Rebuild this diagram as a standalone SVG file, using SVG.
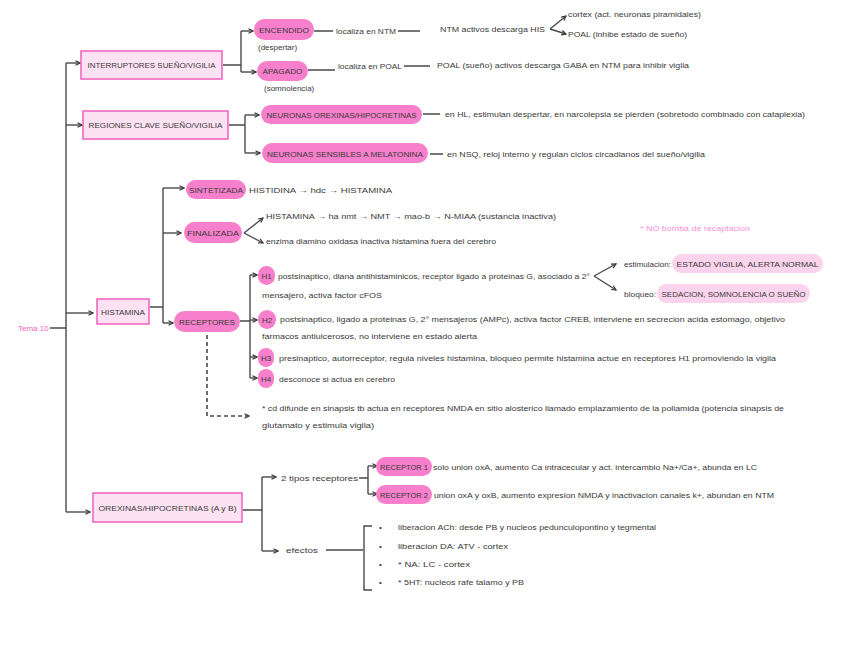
<svg xmlns="http://www.w3.org/2000/svg" width="848" height="656" viewBox="0 0 848 656">
<style>
.t{font-family:"Liberation Sans",Arial,sans-serif;font-size:8px;fill:#3a3a3a}
.c{text-anchor:middle}
.pk{fill:#f77fcb}
.lp{fill:#fcd3ec}
.box{fill:#fde2f3;stroke:#f15fbf;stroke-width:1.5}
.ln{fill:none;stroke:#4a4a4a;stroke-width:1.4}
.ar{fill:none;stroke:#4a4a4a;stroke-width:1.4;marker-end:url(#ah)}
.da{fill:none;stroke:#4a4a4a;stroke-width:1.6;stroke-dasharray:4 3;marker-end:url(#ah)}
.pt{fill:#f45fbf}
</style>
<defs>
<marker id="ah" viewBox="0 0 8 8" refX="7" refY="4" markerWidth="6" markerHeight="6" markerUnits="userSpaceOnUse" orient="auto">
<path d="M1,1 L7,4 L1,7" fill="none" stroke="#3a3a3a" stroke-width="1.6"/>
</marker>
</defs>
<rect width="848" height="656" fill="#ffffff"/>

<g id="connectors">
<path class="ln" d="M50,328 H66 M66,63 V512"/>
<path class="ar" d="M66,63 H80"/>
<path class="ar" d="M66,125 H82"/>
<path class="ar" d="M66,313 H93"/>
<path class="ar" d="M66,512 H90"/>
<!-- interruptores -->
<path class="ln" d="M223,65 H241 M241,31 V72"/>
<path class="ar" d="M241,31 H253"/>
<path class="ar" d="M241,72 H256"/>
<path class="ln" d="M314,31 H333 M398,31 H420 M308,70 H335 M404,66 H430"/>
<path class="ar" d="M550,29 L566,16"/>
<path class="ar" d="M550,29 L566,34"/>
<!-- regiones -->
<path class="ln" d="M229,125 H245 M245,115 V153"/>
<path class="ar" d="M245,115 H259"/>
<path class="ar" d="M245,153 H260"/>
<path class="ln" d="M423,114 H440 M430,154 H443"/>
<!-- histamina -->
<path class="ln" d="M150,307 H163 M163,188 V323"/>
<path class="ar" d="M163,188 H184"/>
<path class="ar" d="M163,233 H181"/>
<path class="ar" d="M163,323 H173"/>
<path class="ar" d="M244,233 L263,218"/>
<path class="ar" d="M244,233 L263,243"/>
<path class="ln" d="M240,321 H250 M250,275 V378"/>
<path class="ar" d="M250,275 H257"/>
<path class="ar" d="M250,320 H257"/>
<path class="ar" d="M250,357 H257"/>
<path class="ar" d="M250,378 H257"/>
<path class="ar" d="M594,276 L616,264"/>
<path class="ar" d="M594,276 L616,290"/>
<path class="da" d="M207,335 V416 H249"/>
<!-- orexinas -->
<path class="ln" d="M243,510 H262 M262,477 V551"/>
<path class="ar" d="M262,477 H276"/>
<path class="ar" d="M262,551 H278"/>
<path class="ln" d="M359,478 H368 M368,466 V494"/>
<path class="ar" d="M368,466 H377"/>
<path class="ar" d="M368,494 H377"/>
<path class="ln" d="M326,550 H363 M372,526 H364 V590 H372"/>
</g>

<g id="tema"><text class="t pt" x="18" y="331" style="fill:#f45fbf">Tema 10</text></g>

<g id="interruptores">
<rect class="box" x="81" y="51" width="141" height="28"/>
<text class="t c" x="151.5" y="68" textLength="128" lengthAdjust="spacingAndGlyphs">INTERRUPTORES SUEÑO/VIGILIA</text>
</g>
<g id="encendido">
<rect class="pk" x="254" y="19" width="60" height="21" rx="10.5"/>
<text class="t c" x="284" y="33" textLength="50" lengthAdjust="spacingAndGlyphs">ENCENDIDO</text>
<text class="t" x="258" y="50">(despertar)</text>
<text class="t" x="336" y="34" textLength="60" lengthAdjust="spacingAndGlyphs">localiza en NTM</text>
<text class="t" x="440" y="32" textLength="105" lengthAdjust="spacingAndGlyphs">NTM activos descarga HIS</text>
<text class="t" x="568" y="17" textLength="133" lengthAdjust="spacingAndGlyphs">cortex (act. neuronas piramidales)</text>
<text class="t" x="568" y="37" textLength="119" lengthAdjust="spacingAndGlyphs">POAL (inhibe estado de sueño)</text>
</g>
<g id="apagado">
<rect class="pk" x="257" y="61" width="51" height="20" rx="10"/>
<text class="t c" x="282.5" y="74" textLength="40" lengthAdjust="spacingAndGlyphs">APAGADO</text>
<text class="t" x="264" y="91">(somnolencia)</text>
<text class="t" x="338" y="69" textLength="64" lengthAdjust="spacingAndGlyphs">localiza en POAL</text>
<text class="t" x="437" y="68" textLength="252" lengthAdjust="spacingAndGlyphs">POAL (sueño) activos descarga GABA en NTM para inhibir vigila</text>
</g>

<g id="regiones">
<rect class="box" x="83" y="111" width="145" height="28"/>
<text class="t c" x="155.5" y="128" textLength="134" lengthAdjust="spacingAndGlyphs">REGIONES CLAVE SUEÑO/VIGILIA</text>
</g>
<g id="orexinas-neuronas">
<rect class="pk" x="261" y="105" width="161" height="19" rx="9.5"/>
<text class="t c" x="341.5" y="117.5" textLength="150" lengthAdjust="spacingAndGlyphs">NEURONAS OREXINAS/HIPOCRETINAS</text>
<text class="t" x="445" y="117" textLength="360" lengthAdjust="spacingAndGlyphs">en HL, estimulan despertar, en narcolepsia se pierden (sobretodo combinado con cataplexia)</text>
</g>
<g id="melatonina">
<rect class="pk" x="262" y="143" width="166" height="20" rx="10"/>
<text class="t c" x="345" y="156.5" textLength="156" lengthAdjust="spacingAndGlyphs">NEURONAS SENSIBLES A MELATONINA</text>
<text class="t" x="447" y="157" textLength="258" lengthAdjust="spacingAndGlyphs">en NSQ, reloj interno y regulan ciclos circadianos del sueño/vigilia</text>
</g>

<g id="histamina">
<rect class="box" x="97" y="299" width="52" height="25"/>
<text class="t c" x="123" y="315" textLength="44" lengthAdjust="spacingAndGlyphs">HISTAMINA</text>
</g>
<g id="sintetizada">
<rect class="pk" x="186" y="180" width="60" height="19" rx="9.5"/>
<text class="t c" x="216" y="193" textLength="54" lengthAdjust="spacingAndGlyphs">SINTETIZADA</text>
<text class="t" x="249" y="193" textLength="143" lengthAdjust="spacingAndGlyphs">HISTIDINA → hdc → HISTAMINA</text>
</g>
<g id="finalizada">
<rect class="pk" x="184" y="222" width="58" height="21" rx="10.5"/>
<text class="t c" x="213" y="236" textLength="52" lengthAdjust="spacingAndGlyphs">FINALIZADA</text>
<text class="t" x="266" y="219" textLength="290" lengthAdjust="spacingAndGlyphs">HISTAMINA → ha nmt → NMT → mao-b → N-MIAA (sustancia inactiva)</text>
<text class="t" x="266" y="244" textLength="230" lengthAdjust="spacingAndGlyphs">enzima diamino oxidasa inactiva histamina fuera del cerebro</text>
</g>
<g id="nota-recaptacion">
<text class="t" x="640" y="231" style="fill:#f78fd4" textLength="110" lengthAdjust="spacingAndGlyphs">* NO bomba de recaptacion</text>
</g>
<g id="receptores">
<rect class="pk" x="174" y="311" width="66" height="21" rx="10.5"/>
<text class="t c" x="207" y="325" textLength="56" lengthAdjust="spacingAndGlyphs">RECEPTORES</text>
</g>
<g id="h1">
<rect class="pk" x="258" y="266" width="17" height="19" rx="8.5"/>
<text class="t c" x="266.5" y="279">H1</text>
<text class="t" x="278" y="279" textLength="312" lengthAdjust="spacingAndGlyphs">postsinaptico, diana antihistaminicos, receptor ligado a proteinas G, asociado a 2°</text>
<text class="t" x="262" y="298" textLength="120" lengthAdjust="spacingAndGlyphs">mensajero, activa factor cFOS</text>
</g>
<g id="estimulacion">
<text class="t" x="624" y="267" textLength="47" lengthAdjust="spacingAndGlyphs">estimulacion:</text>
<rect class="lp" x="672" y="254" width="151" height="19" rx="9.5"/>
<text class="t c" x="747.5" y="267" textLength="142" lengthAdjust="spacingAndGlyphs">ESTADO VIGILIA, ALERTA NORMAL</text>
</g>
<g id="bloqueo">
<text class="t" x="624" y="297" textLength="32" lengthAdjust="spacingAndGlyphs">bloqueo:</text>
<rect class="lp" x="657" y="284" width="153" height="19" rx="9.5"/>
<text class="t c" x="733.5" y="297" textLength="144" lengthAdjust="spacingAndGlyphs">SEDACION, SOMNOLENCIA O SUEÑO</text>
</g>
<g id="h2">
<rect class="pk" x="258" y="310" width="18" height="19" rx="9"/>
<text class="t c" x="267" y="323">H2</text>
<text class="t" x="280" y="322" textLength="505" lengthAdjust="spacingAndGlyphs">postsinaptico, ligado a proteinas G, 2° mensajeros (AMPc), activa factor CREB, interviene en secrecion acida estomago, objetivo</text>
<text class="t" x="262" y="339" textLength="215" lengthAdjust="spacingAndGlyphs">farmacos antiulcerosos, no interviene en estado alerta</text>
</g>
<g id="h3">
<rect class="pk" x="258" y="348" width="16" height="19" rx="8"/>
<text class="t c" x="266" y="361">H3</text>
<text class="t" x="279" y="361" textLength="497" lengthAdjust="spacingAndGlyphs">presinaptico, autorreceptor, regula niveles histamina, bloqueo permite histamina actue en receptores H1 promoviendo la vigila</text>
</g>
<g id="h4">
<rect class="pk" x="258" y="369" width="16" height="19" rx="8"/>
<text class="t c" x="266" y="382">H4</text>
<text class="t" x="279" y="382" textLength="116" lengthAdjust="spacingAndGlyphs">desconoce si actua en cerebro</text>
</g>
<g id="nota-nmda">
<text class="t" x="262" y="411" textLength="522" lengthAdjust="spacingAndGlyphs">* cd difunde en sinapsis tb actua en receptores NMDA en sitio alosterico llamado emplazamiento de la poliamida (potencia sinapsis de</text>
<text class="t" x="262" y="428" textLength="112" lengthAdjust="spacingAndGlyphs">glutamato y estimula vigila)</text>
</g>

<g id="orexinas">
<rect class="box" x="93" y="493" width="149" height="29"/>
<text class="t c" x="167.5" y="511" textLength="138" lengthAdjust="spacingAndGlyphs">OREXINAS/HIPOCRETINAS (A y B)</text>
</g>
<g id="tipos">
<text class="t" x="281" y="481" textLength="77" lengthAdjust="spacingAndGlyphs">2 tipos receptores</text>
</g>
<g id="receptor1">
<rect class="pk" x="376" y="457" width="56" height="19" rx="9.5"/>
<text class="t c" x="404" y="470" textLength="48" lengthAdjust="spacingAndGlyphs">RECEPTOR 1</text>
<text class="t" x="433" y="470" textLength="324" lengthAdjust="spacingAndGlyphs">solo union oxA, aumento Ca intracecular y act. intercambio Na+/Ca+, abunda en LC</text>
</g>
<g id="receptor2">
<rect class="pk" x="376" y="485" width="56" height="19" rx="9.5"/>
<text class="t c" x="404" y="498" textLength="48" lengthAdjust="spacingAndGlyphs">RECEPTOR 2</text>
<text class="t" x="434" y="498" textLength="340" lengthAdjust="spacingAndGlyphs">union oxA y oxB, aumento expresion NMDA y inactivacion canales k+, abundan en NTM</text>
</g>
<g id="efectos">
<text class="t" x="286" y="553" textLength="32" lengthAdjust="spacingAndGlyphs">efectos</text>
<text class="t" x="379" y="530">•</text>
<text class="t" x="398" y="530" textLength="258" lengthAdjust="spacingAndGlyphs">liberacion ACh: desde PB y nucleos pedunculopontino y tegmental</text>
<text class="t" x="379" y="549">•</text>
<text class="t" x="398" y="549" textLength="110" lengthAdjust="spacingAndGlyphs">liberacion DA: ATV - cortex</text>
<text class="t" x="379" y="567">•</text>
<text class="t" x="398" y="567" textLength="72" lengthAdjust="spacingAndGlyphs">* NA: LC - cortex</text>
<text class="t" x="379" y="585">•</text>
<text class="t" x="398" y="585" textLength="126" lengthAdjust="spacingAndGlyphs">* 5HT: nucleos rafe talamo y PB</text>
</g>
</svg>
